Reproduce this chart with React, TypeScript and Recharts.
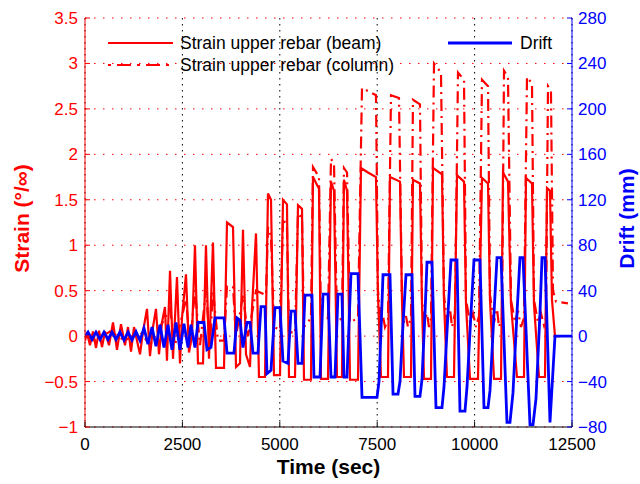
import { CartesianGrid, Label, Line, LineChart, XAxis, YAxis } from 'recharts';

const FONT = '"Liberation Sans", Arial, Helvetica, sans-serif';
const RED = '#ff0000';
const BLUE = '#0000ff';

const timeTicks = [0, 2500, 5000, 7500, 10000, 12500];
const strainTicks = [-1, -0.5, 0, 0.5, 1, 1.5, 2, 2.5, 3, 3.5];
const driftTicks = [-80, -40, 0, 40, 80, 120, 160, 200, 240, 280];

// [time (sec), strain (per mille)]
const beamStrain: [number, number][] = [
  [0, -0.05], [51, 0.04], [128, -0.1], [205, 0.05], [282, -0.13], [359, 0.06], [436, -0.12],
  [513, 0.05], [616, -0.1], [719, 0.15], [821, -0.15], [924, 0.13], [1027, -0.1], [1104, 0.1],
  [1181, -0.17], [1258, 0.1], [1335, -0.05], [1412, -0.2], [1489, 0.05], [1591, 0.3], [1668, -0.22],
  [1745, 0.1], [1822, 0.3], [1899, -0.2], [1976, 0.15], [2053, 0.32], [2104, -0.27], [2182, 0.72],
  [2259, -0.25], [2361, 0.65], [2438, -0.3], [2490, 0.2], [2592, 0.68], [2669, -0.18], [2746, 0.0],
  [2823, 1.0], [2900, -0.3], [3029, -0.3], [3105, 1.0], [3183, -0.25], [3285, 1.03], [3362, -0.35],
  [3568, -0.35], [3645, 1.25], [3799, 1.2], [3876, -0.34], [3978, -0.3], [4055, 1.17], [4132, -0.2],
  [4235, -0.34], [4286, 0.3], [4389, 1.13], [4466, -0.45], [4620, -0.45], [4697, 1.57], [4774, 1.5],
  [4851, -0.43], [5005, -0.43], [5082, 1.5], [5184, 1.45], [5236, -0.45], [5390, -0.45], [5467, 1.44],
  [5570, 1.4], [5621, -0.48], [5800, -0.48], [5852, 1.75], [6006, 1.62], [6057, -0.47], [6237, -0.47],
  [6314, 1.7], [6391, 1.6], [6468, -0.45], [6596, -0.45], [6647, 1.72], [6725, 1.6], [6802, -0.48],
  [7007, -0.48], [7084, 1.85], [7264, 1.8], [7469, 1.75], [7520, 0.45], [7598, -0.45], [7777, -0.45],
  [7828, 1.75], [8085, 1.7], [8136, 0.4], [8188, -0.45], [8367, -0.45], [8418, 1.72], [8598, 1.68],
  [8650, 0.35], [8701, -0.47], [8881, -0.47], [8932, 1.85], [9163, 1.78], [9214, 0.4], [9291, -0.45],
  [9471, -0.45], [9548, 1.77], [9728, 1.7], [9779, 0.35], [9882, -0.47], [10087, -0.47], [10190, 1.74],
  [10344, 1.68], [10395, 0.4], [10498, -0.47], [10678, -0.47], [10729, 1.8], [10857, 1.7], [10934, 0.35],
  [11088, -0.45], [11268, -0.45], [11319, 1.74], [11473, 1.68], [11524, 0.35], [11653, -0.45],
  [11807, -0.45], [11858, 1.63], [11935, 1.6], [11986, 0.4], [12063, 0.0], [12200, 0.0],
];

const columnStrain: [number, number][] = [
  [0, 0], [257, -0.05], [642, 0.05], [1027, -0.05], [1412, 0.05], [1668, -0.1], [1925, 0.1],
  [2182, 0.3], [2310, -0.1], [2592, 0.4], [2695, -0.1], [2823, 0.5], [2952, -0.1], [3105, 0.5],
  [3208, -0.1], [3285, 0.5], [3413, -0.05], [3568, -0.05], [3645, 0.55], [3799, 0.54], [3876, 0.0],
  [4055, 0.45], [4184, 0.0], [4389, 0.5], [4645, 0.45], [4697, 1.2], [4774, 1.1], [4851, 0.1],
  [5005, 0.07], [5082, 1.3], [5184, 1.2], [5236, 0.05], [5390, 0.03], [5467, 1.35], [5570, 1.3],
  [5621, 0.1], [5800, 0.2], [5852, 1.86], [6006, 1.75], [6057, 0.15], [6237, 0.2], [6314, 1.95],
  [6391, 1.9], [6468, 0.15], [6596, 0.2], [6647, 1.85], [6725, 1.8], [6802, 0.15], [7007, 0.2],
  [7110, 2.73], [7469, 2.65], [7520, 0.5], [7598, 0.15], [7649, 0.22], [7700, 0.1], [7777, 0.18],
  [7854, 2.65], [8059, 2.62], [8136, 0.45], [8188, 0.15], [8239, 0.22], [8290, 0.1], [8367, 0.2],
  [8418, 2.6], [8598, 2.55], [8650, 0.4], [8701, 0.15], [8778, 0.25], [8829, 0.1], [8881, 0.2],
  [8958, 3.0], [9137, 2.9], [9214, 0.45], [9291, 0.15], [9368, 0.3], [9420, 0.1], [9497, 0.25],
  [9574, 2.9], [9728, 2.82], [9779, 0.4], [9882, 0.15], [9959, 0.25], [10036, 0.1], [10113, 0.22],
  [10190, 2.82], [10344, 2.75], [10395, 0.45], [10498, 0.15], [10575, 0.3], [10626, 0.1], [10703, 0.2],
  [10755, 2.92], [10857, 2.85], [10934, 0.4], [11037, 0.15], [11114, 0.28], [11191, 0.1], [11268, 0.2],
  [11345, 2.85], [11473, 2.78], [11524, 0.4], [11627, 0.15], [11704, 0.25], [11781, 0.12], [11832, 0.2],
  [11884, 2.75], [11960, 2.7], [12012, 0.5], [12088, 0.38], [12396, 0.36],
];

// [time (sec), drift (mm)]
const drift: [number, number][] = [
  [0, 0], [77, 3.5], [180, -3], [282, 3.5], [385, -3], [488, 3.5], [590, -3], [693, 3.5], [796, -3],
  [898, 3.5], [1001, -3.5], [1104, 3.5], [1206, -3.5], [1309, 4], [1412, -4], [1514, 7], [1617, -7],
  [1720, 8], [1822, -9], [1925, 10], [2028, -10], [2130, 10], [2233, -12], [2336, 12], [2438, -12],
  [2541, 11], [2644, -10], [2720, 10], [2823, -10], [2900, 12], [3054, 12], [3131, -12], [3234, -10],
  [3337, 16], [3568, 16], [3645, -15], [3824, -15], [3901, 16], [3978, 14], [4055, -10], [4158, 12],
  [4235, 12], [4312, -15], [4440, -15], [4517, 26], [4620, 26], [4671, -33], [4774, -30], [4877, 25],
  [5005, 25], [5082, -22], [5210, -24], [5287, 22], [5390, 22], [5467, -24], [5570, -24], [5647, 36],
  [5826, 36], [5877, -36], [6032, -36], [6109, 37], [6237, 37], [6314, -36], [6417, -36], [6493, 37],
  [6596, 37], [6647, -36], [6725, -36], [6776, 10], [6827, 55], [7007, 55], [7110, -54], [7495, -54],
  [7546, -40], [7598, 5], [7649, 54], [7828, 54], [7906, -51], [8034, -51], [8085, -40], [8162, 10],
  [8239, 54], [8393, 54], [8470, -53], [8598, -53], [8650, -38], [8727, 20], [8778, 65], [8906, 65],
  [9009, -63], [9163, -63], [9214, -45], [9317, 20], [9394, 67], [9548, 67], [9625, -66], [9753, -66],
  [9805, -45], [9907, 20], [9984, 67], [10138, 67], [10241, -63], [10344, -63], [10395, -48],
  [10498, 20], [10575, 69], [10678, 69], [10831, -76], [10908, -76], [10985, -50], [11088, 20],
  [11165, 69], [11242, 69], [11422, -78], [11499, -78], [11576, -55], [11678, 20], [11730, 69],
  [11807, 69], [11935, -76], [12063, 0], [12500, 0],
];

const toRows = (pts: [number, number][]) => pts.map(([t, v]) => ({ t, v }));
const fmt = (v: number) => (v < 0 ? '\u2212' + Math.abs(v) : String(v));

function StrainTick({ x, y, payload }: any) {
  return (
    <g>
      <line x1={x + 7} x2={x + 12} y1={y} y2={y} stroke={RED} />
      <text x={x} y={y} dy="0.35em" textAnchor="end" fill={RED} fontSize={17} fontFamily={FONT}>
        {fmt(payload.value)}
      </text>
    </g>
  );
}

function DriftTick({ x, y, payload }: any) {
  return (
    <g>
      <line x1={x - 6} x2={x - 11} y1={y} y2={y} stroke={BLUE} />
      <text x={x} y={y} dy="0.35em" textAnchor="start" fill={BLUE} fontSize={17} fontFamily={FONT}>
        {fmt(payload.value)}
      </text>
    </g>
  );
}

function TimeTick({ x, y, payload }: any) {
  return (
    <g>
      <line x1={x} x2={x} y1={y - 11} y2={y - 16} stroke="#000" />
      <text x={x} y={y} dy="0.71em" textAnchor="middle" fill="#000" fontSize={17} fontFamily={FONT}>
        {payload.value}
      </text>
    </g>
  );
}

const sideTitle = (text: string, cx: number, color: string) => (props: any) => {
  const vb = props.viewBox;
  const cy = vb.y + vb.height / 2 - 4;
  return (
    <text
      x={cx}
      y={cy}
      dy="0.35em"
      textAnchor="middle"
      transform={`rotate(-90 ${cx} ${cy})`}
      fill={color}
      fontSize={21}
      fontWeight="bold"
      fontFamily={FONT}
    >
      {text}
    </text>
  );
};

const timeTitle = (props: any) => {
  const vb = props.viewBox;
  return (
    <text x={vb.x + vb.width / 2} y={474} textAnchor="middle" fill="#000" fontSize={21} fontWeight="bold" fontFamily={FONT}>
      Time (sec)
    </text>
  );
};

function LegendBox() {
  const txt = { fontSize: 17.5, fontFamily: FONT, fill: '#000' };
  return (
    <svg width={640} height={90} style={{ position: 'absolute', left: 0, top: 0, pointerEvents: 'none' }}>
      <line x1={108} x2={173} y1={43} y2={43} stroke={RED} strokeWidth={2.2} />
      <text x={180} y={49} {...txt}>Strain upper rebar (beam)</text>
      <line x1={108} x2={173} y1={65} y2={65} stroke={RED} strokeWidth={2.2} strokeDasharray="3 6 14 6" />
      <text x={180} y={71} {...txt}>Strain upper rebar (column)</text>
      <line x1={448} x2={512} y1={43} y2={43} stroke={BLUE} strokeWidth={2.8} />
      <text x={520} y={49} {...txt}>Drift</text>
    </svg>
  );
}

export default function App() {
  return (
    <div style={{ position: 'absolute', left: 0, top: 0, width: 640, height: 484, background: '#fff' }}>
      <LineChart width={640} height={484} margin={{ top: 18, right: 0, bottom: 0, left: 0 }}>
        <CartesianGrid yAxisId="L" horizontal vertical={false} stroke={RED} strokeDasharray="1.5 7.5" />
        <CartesianGrid yAxisId="L" horizontal={false} vertical stroke="#000" strokeDasharray="1.5 4.5" />
        <XAxis
          type="number"
          dataKey="t"
          domain={[0, 12500]}
          ticks={timeTicks}
          interval={0}
          allowDataOverflow
          height={57}
          tickLine={false}
          tickSize={7}
          tickMargin={4}
          tick={<TimeTick />}
          axisLine={{ stroke: '#000' }}
        >
          <Label content={timeTitle} />
        </XAxis>
        <YAxis
          yAxisId="L"
          type="number"
          domain={[-1, 3.5]}
          ticks={strainTicks}
          interval={0}
          allowDataOverflow
          width={85}
          tickLine={false}
          tickSize={7}
          tickMargin={0}
          tick={<StrainTick />}
          axisLine={{ stroke: RED }}
        >
          <Label content={sideTitle('Strain (°/∞)', 22, RED)} />
        </YAxis>
        <YAxis
          yAxisId="R"
          orientation="right"
          type="number"
          domain={[-80, 280]}
          ticks={driftTicks}
          interval={0}
          allowDataOverflow
          width={68}
          tickLine={false}
          tickSize={6}
          tickMargin={0}
          tick={<DriftTick />}
          axisLine={{ stroke: BLUE }}
        >
          <Label content={sideTitle('Drift (mm)', 627, BLUE)} />
        </YAxis>
        <Line
          yAxisId="L"
          data={toRows(columnStrain)}
          dataKey="v"
          type="linear"
          stroke={RED}
          strokeWidth={2.2}
          strokeDasharray="12 5 2 5"
          dot={false}
          isAnimationActive={false}
        />
        <Line
          yAxisId="L"
          data={toRows(beamStrain)}
          dataKey="v"
          type="linear"
          stroke={RED}
          strokeWidth={2.2}
          dot={false}
          isAnimationActive={false}
        />
        <Line
          yAxisId="R"
          data={toRows(drift)}
          dataKey="v"
          type="linear"
          stroke={BLUE}
          strokeWidth={2.8}
          dot={false}
          isAnimationActive={false}
        />
      </LineChart>
      <LegendBox />
    </div>
  );
}
